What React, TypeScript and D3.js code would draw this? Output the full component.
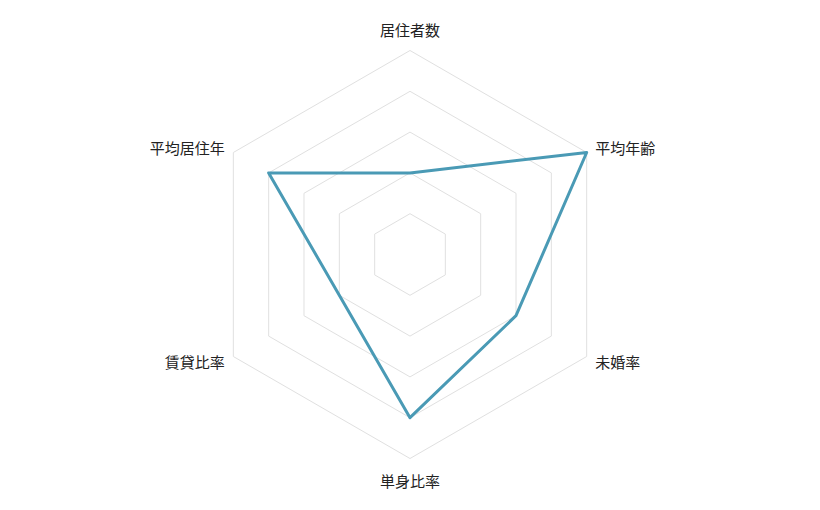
import * as d3 from 'd3';
import React from 'react';

const categories = ['居住者数', '平均年齢', '未婚率', '単身比率', '賃貸比率', '平均居住年'];
const values: (number | null)[] = [2, 5, 3, 4, null, 4];
const levels = [1, 2, 3, 4, 5];

const width = 820;
const height = 510;
const cx = 410;
const cy = 254.5;
const radius = 204;

export default function App() {
  const scaleR = d3.scaleLinear().domain([0, 5]).range([0, radius]);
  const angle = (i: number) => (i * 2 * Math.PI) / categories.length;
  const point = (i: number, v: number): [number, number] => [
    cx + scaleR(v) * Math.sin(angle(i)),
    cy - scaleR(v) * Math.cos(angle(i)),
  ];

  const ring = d3.line<number>()
    .x((_, i) => point(i, 0)[0])
    .y((_, i) => point(i, 0)[1]);

  const defined = values
    .map((v, i) => ({ v, i }))
    .filter((d) => d.v !== null) as { v: number; i: number }[];
  const line = d3
    .line<{ v: number; i: number }>()
    .x((d) => point(d.i, d.v)[0])
    .y((d) => point(d.i, d.v)[1])
    .curve(d3.curveLinearClosed);

  return (
    <svg width={width} height={height} style={{ display: 'block', margin: -8 }}>
      <g fill="none" stroke="#e0e0e0" strokeWidth={1}>
        {levels.map((lv) => (
          <path
            key={lv}
            d={
              d3
                .line<number>()
                .x((_, i) => point(i, lv)[0])
                .y((_, i) => point(i, lv)[1])
                .curve(d3.curveLinearClosed)(categories.map(() => lv)) || ''
            }
          />
        ))}
      </g>
      <path d={line(defined) || ''} fill="none" stroke="#4a9ab5" strokeWidth={3} strokeLinejoin="round" />
      <g fontFamily="'Noto Sans CJK JP', sans-serif" fontSize={15} fill="#222">
        {categories.map((c, i) => {
          const [x, y] = point(i, 5 + 10 / scaleR(1));
          const s = Math.sin(angle(i));
          const co = Math.cos(angle(i));
          const anchor = Math.abs(s) < 0.01 ? 'middle' : s > 0 ? 'start' : 'end';
          const dy = Math.abs(s) < 0.01 ? (co > 0 ? -11.5 : 11.5) : 0;
          return (
            <text key={c} x={x} y={y + dy} textAnchor={anchor} dominantBaseline="central">
              {c}
            </text>
          );
        })}
      </g>
    </svg>
  );
}
